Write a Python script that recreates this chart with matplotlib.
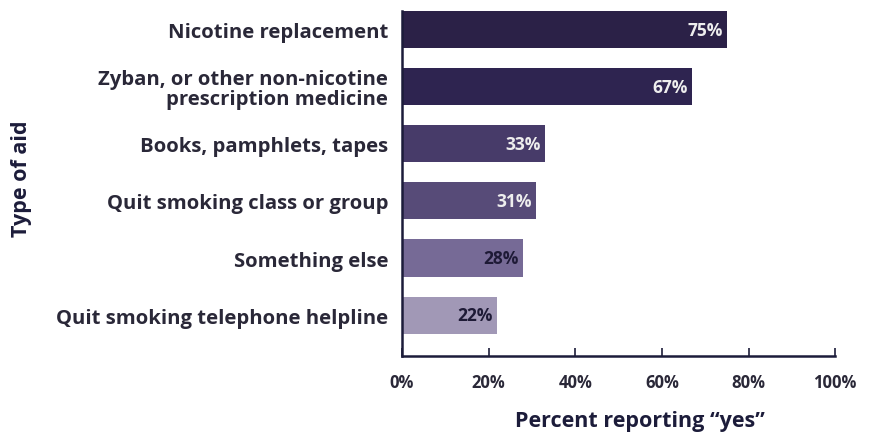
import matplotlib
matplotlib.use("Agg")
import matplotlib.pyplot as plt

aids = [
    "Nicotine replacement",
    "Zyban, or other non-nicotine\nprescription medicine",
    "Books, pamphlets, tapes",
    "Quit smoking class or group",
    "Something else",
    "Quit smoking telephone helpline",
]
percent = [75, 67, 33, 31, 28, 22]
bar_colors = ["#2b2147", "#2e2450", "#473b69", "#574b78", "#766a96", "#a198b6"]
text_colors = ["#eeeeee", "#eeeeee", "#eeeeee", "#eeeeee", "#1e1a36", "#1e1a36"]
ticks = [0, 20, 40, 60, 80, 100]

ink = "#1c1c3a"
label_ink = "#2a2838"
plt.rcParams["font.family"] = ["Open Sans", "DejaVu Sans"]

fig = plt.figure(figsize=(8.69, 4.35), dpi=100)
ax = fig.add_axes([0.4626, 0.179, 0.4985, 0.821])

pos = list(range(len(aids)))
ax.barh(pos, percent, height=0.65, color=bar_colors, edgecolor="none")
for y, v, c in zip(pos, percent, text_colors):
    ax.text(v - 1.0, y, f"{v}%", ha="right", va="center", color=c,
            fontsize=12.5, fontweight="bold")

ax.set_ylim(5.72, -0.54)
ax.set_xlim(0, 100)
ax.set_yticks(pos)
ax.set_yticklabels(aids, fontsize=14.6, fontweight="bold",
                   color=label_ink, linespacing=1.0)
ax.tick_params(axis="y", length=0, pad=10)
ax.set_xticks(ticks)
ax.set_xticklabels([f"{t}%" for t in ticks], fontsize=12,
                   fontweight="bold", color=label_ink)
ax.tick_params(axis="x", direction="in", length=6, width=1.2, color=ink,
               pad=12)

for s in ["top", "right"]:
    ax.spines[s].set_visible(False)
for s in ["left", "bottom"]:
    ax.spines[s].set_color(ink)
    ax.spines[s].set_linewidth(1.8)
ax.spines["left"].set_bounds(5.72, -0.325)

fig.text(0.736, 0.03, "Percent reporting \u201cyes\u201d", ha="center",
         va="center", fontsize=15.5, fontweight="bold", color=ink)
fig.text(0.025, 0.589, "Type of aid", ha="center", va="center", rotation=90,
         fontsize=15.5, fontweight="bold", color=ink)

fig.savefig("out.png", dpi=100)
